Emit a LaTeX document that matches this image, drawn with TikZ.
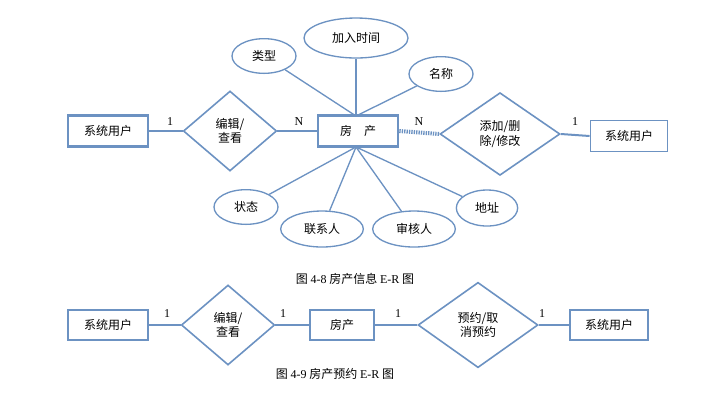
\documentclass[tikz,border=0pt]{standalone}
\usepackage{fontspec}
\setmainfont{Liberation Serif}
\newfontfamily\cjk{Noto Sans CJK SC}
\usetikzlibrary{shapes.geometric}
\definecolor{er}{RGB}{108,146,194}
\begin{document}
\begin{tikzpicture}[x=0.75pt,y=-0.75pt,font=\cjk\small,
 ent/.style={draw=er,line width=2pt,minimum height=23pt,inner sep=0pt},
 rel/.style={draw=er,line width=1.2pt,diamond,aspect=1.2,inner sep=0pt,align=center},
 att/.style={draw=er,line width=1pt,ellipse,inner sep=0pt},
 rl/.style={draw=er,line width=2.2pt},
 al/.style={draw=er,line width=1pt},
 num/.style={font=\rmfamily\small}]
\useasboundingbox (0,0) rectangle (705,401);
% top
\node[ent,minimum width=60pt] (u1) at (108,131) {系统用户};
\node[rel,minimum width=70pt,minimum height=60pt] (r1) at (230,131) {编辑/\\查看};
\node[ent,minimum width=60pt] (h) at (358,131) {房\quad 产};
\node[rel,minimum width=90pt,minimum height=62pt] (r2) at (500,134) {添加/删\\除/修改};
\node[ent,minimum width=58pt,line width=1.2pt] (u2) at (629,136) {系统用户};
\node[att,minimum width=48pt,minimum height=26pt] (a1) at (264,56) {类型};
\node[att,minimum width=78pt,minimum height=30pt] (a2) at (356,38) {加入时间};
\node[att,minimum width=48pt,minimum height=26pt] (a3) at (441,74) {名称};
\node[att,minimum width=48pt,minimum height=26pt] (a4) at (246,207) {状态};
\node[att,minimum width=62pt,minimum height=27pt] (a5) at (322,229) {联系人};
\node[att,minimum width=62pt,minimum height=27pt] (a6) at (414,229) {审核人};
\node[att,minimum width=46pt,minimum height=27pt] (a7) at (487,208) {地址};
\coordinate (ht) at (356,116);
\coordinate (hb) at (356,147);
\foreach \a in {a1,a2,a3} \draw[al] (ht) -- (\a);
\foreach \a in {a4,a5,a6,a7} \draw[al] (hb) -- (\a);
\draw[rl] (u1) -- (r1);
\draw[rl] (r1) -- (h);
\draw[er,line width=3pt,dash pattern=on 1pt off 0.8pt] (h.east) -- (r2.west);
\draw[draw=er,line width=1.5pt] (r2.east) -- (u2.west);
\node[num] at (170,122) {1};
\node[num] at (299,122) {N};
\node[num] at (419,122) {N};
\node[num] at (575,122) {1};
\node (c1) at (355,279) {图 {\rmfamily 4-8} 房产信息 {\rmfamily E-R} 图};
% bottom
\node[ent,minimum width=60pt,line width=1.5pt] (v1) at (108,325) {系统用户};
\node[rel,minimum width=70pt,minimum height=60pt] (s1) at (228,325) {编辑/\\查看};
\node[ent,minimum width=48pt,line width=1.5pt] (g) at (342,325) {房产};
\node[rel,minimum width=90pt,minimum height=64pt] (s2) at (478,325) {预约/取\\消预约};
\node[ent,minimum width=58pt,line width=1.5pt] (v2) at (609,325) {系统用户};
\draw[rl] (v1) -- (s1);
\draw[rl] (s1) -- (g);
\draw[rl] (g) -- (s2);
\draw[rl] (s2) -- (v2);
\node[num] at (167,314) {1};
\node[num] at (283,314) {1};
\node[num] at (398,314) {1};
\node[num] at (542,314) {1};
\node (c2) at (335,374) {图 {\rmfamily 4-9} 房产预约 {\rmfamily E-R} 图};
\end{tikzpicture}
\end{document}
